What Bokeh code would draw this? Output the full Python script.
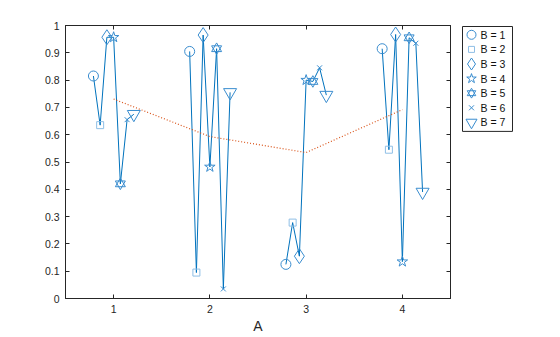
from bokeh.plotting import figure
from bokeh.layouts import row
from bokeh.models import (FixedTicker, LinearAxis, Range1d,
                          CustomJSTickFormatter, ColumnDataSource)
from bokeh.core.properties import value
from bokeh.embed import file_html
from bokeh.resources import INLINE

# ---- data ----
groups_A = [1, 2, 3, 4]
levels_B = [1, 2, 3, 4, 5, 6, 7]
vals_A1 = [0.815, 0.635, 0.957, 0.957, 0.420, 0.655, 0.675]
vals_A2 = [0.905, 0.095, 0.965, 0.482, 0.915, 0.035, 0.755]
vals_A3 = [0.125, 0.278, 0.155, 0.800, 0.795, 0.845, 0.745]
vals_A4 = [0.915, 0.545, 0.967, 0.135, 0.955, 0.935, 0.390]
all_vals = [vals_A1, vals_A2, vals_A3, vals_A4]
y_ticks = [0, 0.1, 0.2, 0.3, 0.4, 0.5, 0.6, 0.7, 0.8, 0.9, 1]
y_tick_labels = ["0", "0.1", "0.2", "0.3", "0.4", "0.5", "0.6", "0.7", "0.8", "0.9", "1"]
x_ticks = [1, 2, 3, 4]
legend_labels = [f"B = {b}" for b in levels_B]

offset_step = 0.07
LINE = "#0072BD"
MK = "#3a8dcf"
ORANGE = "#D95319"
FONT = "Liberation Sans"

p = figure(width=460, height=337, output_backend="svg", toolbar_location=None,
           x_range=Range1d(0.5, 4.5), y_range=Range1d(0, 1),
           min_border_left=65, min_border_right=10, min_border_top=25,
           min_border_bottom=39)
p.grid.visible = False
p.outline_line_color = "#262626"
p.outline_line_width = 1
p.background_fill_color = "white"

def style_axis(ax, labels=True):
    ax.major_tick_in = 4
    ax.major_tick_out = 0
    ax.minor_tick_in = 0
    ax.minor_tick_out = 0
    ax.axis_line_color = "#262626"
    ax.major_tick_line_color = "#262626"
    ax.major_label_text_font = FONT
    ax.major_label_text_font_size = "10.5px"
    ax.major_label_text_color = "#262626"
    if not labels:
        ax.formatter = CustomJSTickFormatter(code="return ''")
        ax.major_label_standoff = 0

# bottom axis
xa = p.xaxis[0]
xa.ticker = FixedTicker(ticks=x_ticks)
style_axis(xa)
xa.axis_label = "A"
xa.axis_label_text_font = FONT
xa.axis_label_text_font_size = "14px"
xa.axis_label_text_font_style = "normal"
xa.axis_label_text_color = "#262626"
xa.axis_label_standoff = 2
xa.major_label_standoff = 6

ya = p.yaxis[0]
ya.ticker = FixedTicker(ticks=y_ticks)
ya.major_label_overrides = {t: l for t, l in zip(y_ticks, y_tick_labels)}
style_axis(ya)
ya.major_label_standoff = 6

top = LinearAxis(ticker=FixedTicker(ticks=x_ticks))
style_axis(top, labels=False)
p.add_layout(top, "above")
right = LinearAxis(ticker=FixedTicker(ticks=y_ticks))
style_axis(right, labels=False)
p.add_layout(right, "right")

# group lines
for a, vals in zip(groups_A, all_vals):
    xs = [a + (b - 4) * offset_step for b in levels_B]
    p.line(xs, vals, line_color=LINE, line_width=1)

marker_spec = {
    1: [("circle", 10)],
    2: [("square", 7)],
    3: [("diamond", 15)],
    4: [("star", 11)],
    5: [("triangle", 10), ("inverted_triangle", 10)],
    6: [("x", 7)],
    7: [("inverted_triangle", 13)],
}
legend_marker_spec = {
    1: [("circle", 9)],
    2: [("square", 6)],
    3: [("diamond", 12)],
    4: [("star", 10)],
    5: [("triangle", 8.5), ("inverted_triangle", 8.5)],
    6: [("x", 7)],
    7: [("inverted_triangle", 11)],
}

for bi, b in enumerate(levels_B):
    xs = [a + (b - 4) * offset_step for a in groups_A]
    ys = [vals[bi] for vals in all_vals]
    src = ColumnDataSource(dict(x=xs, y=ys))
    col = "#8fbfe6" if b == 2 else MK
    for mk, sz in marker_spec[b]:
        p.scatter("x", "y", source=src, marker=mk, size=sz,
                  fill_color=None, line_color=col, line_width=1)

# group means
means = [sum(v) / len(v) for v in all_vals]
p.line(groups_A, means, line_color=ORANGE, line_width=1.2, line_dash="1 2")

# legend panel: a separate small figure whose ranges are in pixels
lg = figure(width=100, height=337, output_backend="svg", toolbar_location=None,
            x_range=Range1d(0, 100), y_range=Range1d(273, 0),
            min_border_left=0, min_border_right=0, min_border_top=25,
            min_border_bottom=39)
lg.axis.visible = False
lg.grid.visible = False
lg.outline_line_color = None

row_h = 14.6
row0 = 9.3
n = len(levels_B)
lg.quad(left=[2], right=[52], top=[1], bottom=[row0 + row_h * (n - 1) + 9],
        fill_color="white", line_color="#262626", line_width=1)
for bi, b in enumerate(levels_B):
    col = "#8fbfe6" if b == 2 else MK
    for mk, sz in legend_marker_spec[b]:
        lg.scatter(x=[11], y=[row0 + row_h * bi], marker=mk, size=sz,
                   fill_color=None, line_color=col, line_width=1)
lg.text(x=[20] * n, y=[row0 + row_h * i for i in range(n)], text=legend_labels,
        text_baseline="middle", text_align="left",
        text_font=value(FONT), text_font_size="10.5px", text_color="#111111")

layout = row(p, lg)
open("out.html", "w").write(file_html(layout, INLINE))
